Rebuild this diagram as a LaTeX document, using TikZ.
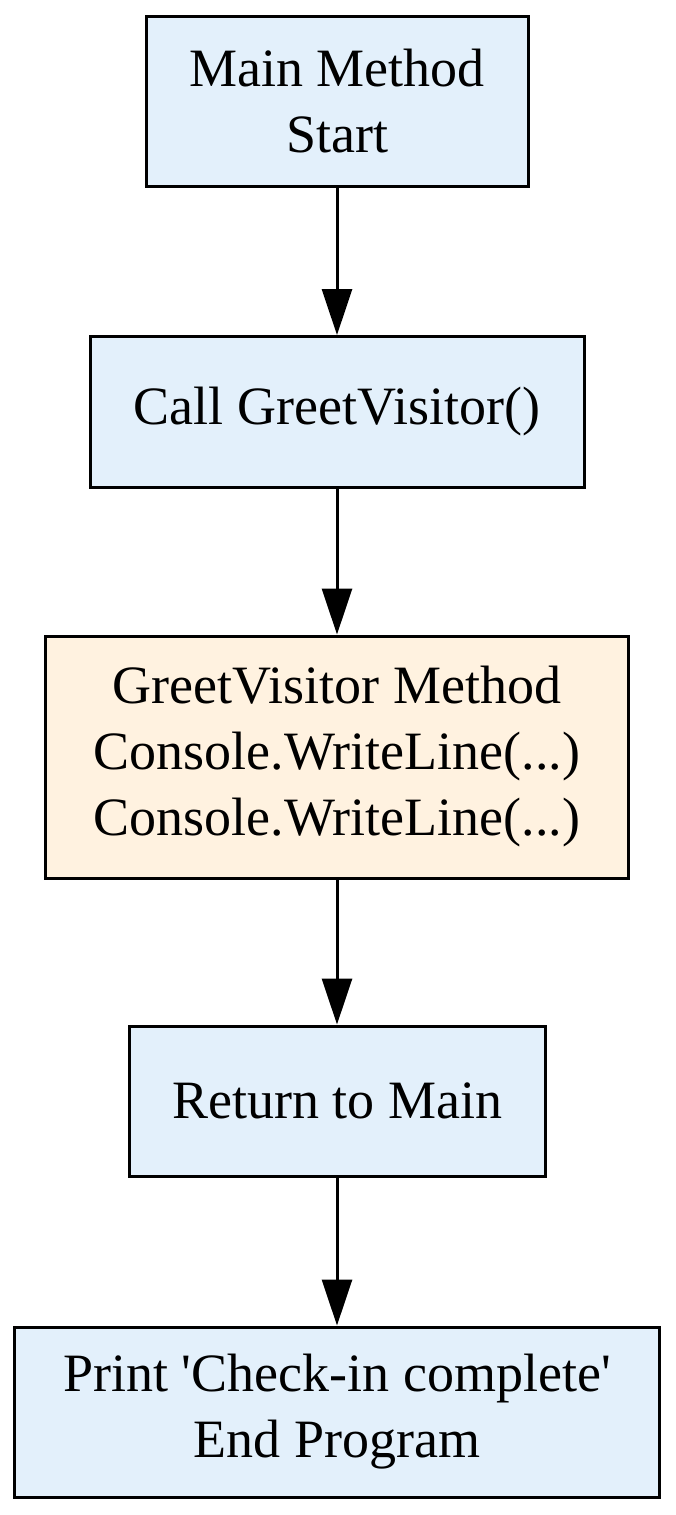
\documentclass[tikz,border=0pt]{standalone}
\usepackage{fontspec}
\setmainfont{Liberation Serif}
\usetikzlibrary{arrows.meta}
\definecolor{bluef}{HTML}{E3F0FB}
\definecolor{orf}{HTML}{FFF2E0}
\begin{document}
\begin{tikzpicture}[x=1pt,y=-1pt,
  box/.style={draw=black,line width=3pt,fill=bluef,align=center,inner sep=0pt,
    font=\fontsize{54}{66}\selectfont},
  arr/.style={line width=3pt,-{Triangle[width=30pt,length=46pt]}}]
\useasboundingbox (0,0) rectangle (675,1515);
\node[box,minimum width=382pt,minimum height=170pt] (a) at (337,101) {Main Method\\Start};
\node[box,minimum width=494pt,minimum height=151pt] (b) at (337,412) {Call GreetVisitor()};
\node[box,fill=orf,minimum width=583pt,minimum height=242pt] (c) at (337,757) {GreetVisitor Method\\Console.WriteLine(...)\\Console.WriteLine(...)};
\node[box,minimum width=416pt,minimum height=150pt] (d) at (337,1101) {Return to Main};
\node[box,minimum width=645pt,minimum height=170pt] (e) at (337,1412) {Print \textquotesingle Check-in complete\textquotesingle\\End Program};
\draw[arr] (a) -- (b);
\draw[arr] (b) -- (c);
\draw[arr] (c) -- (d);
\draw[arr] (d) -- (e);
\end{tikzpicture}
\end{document}
